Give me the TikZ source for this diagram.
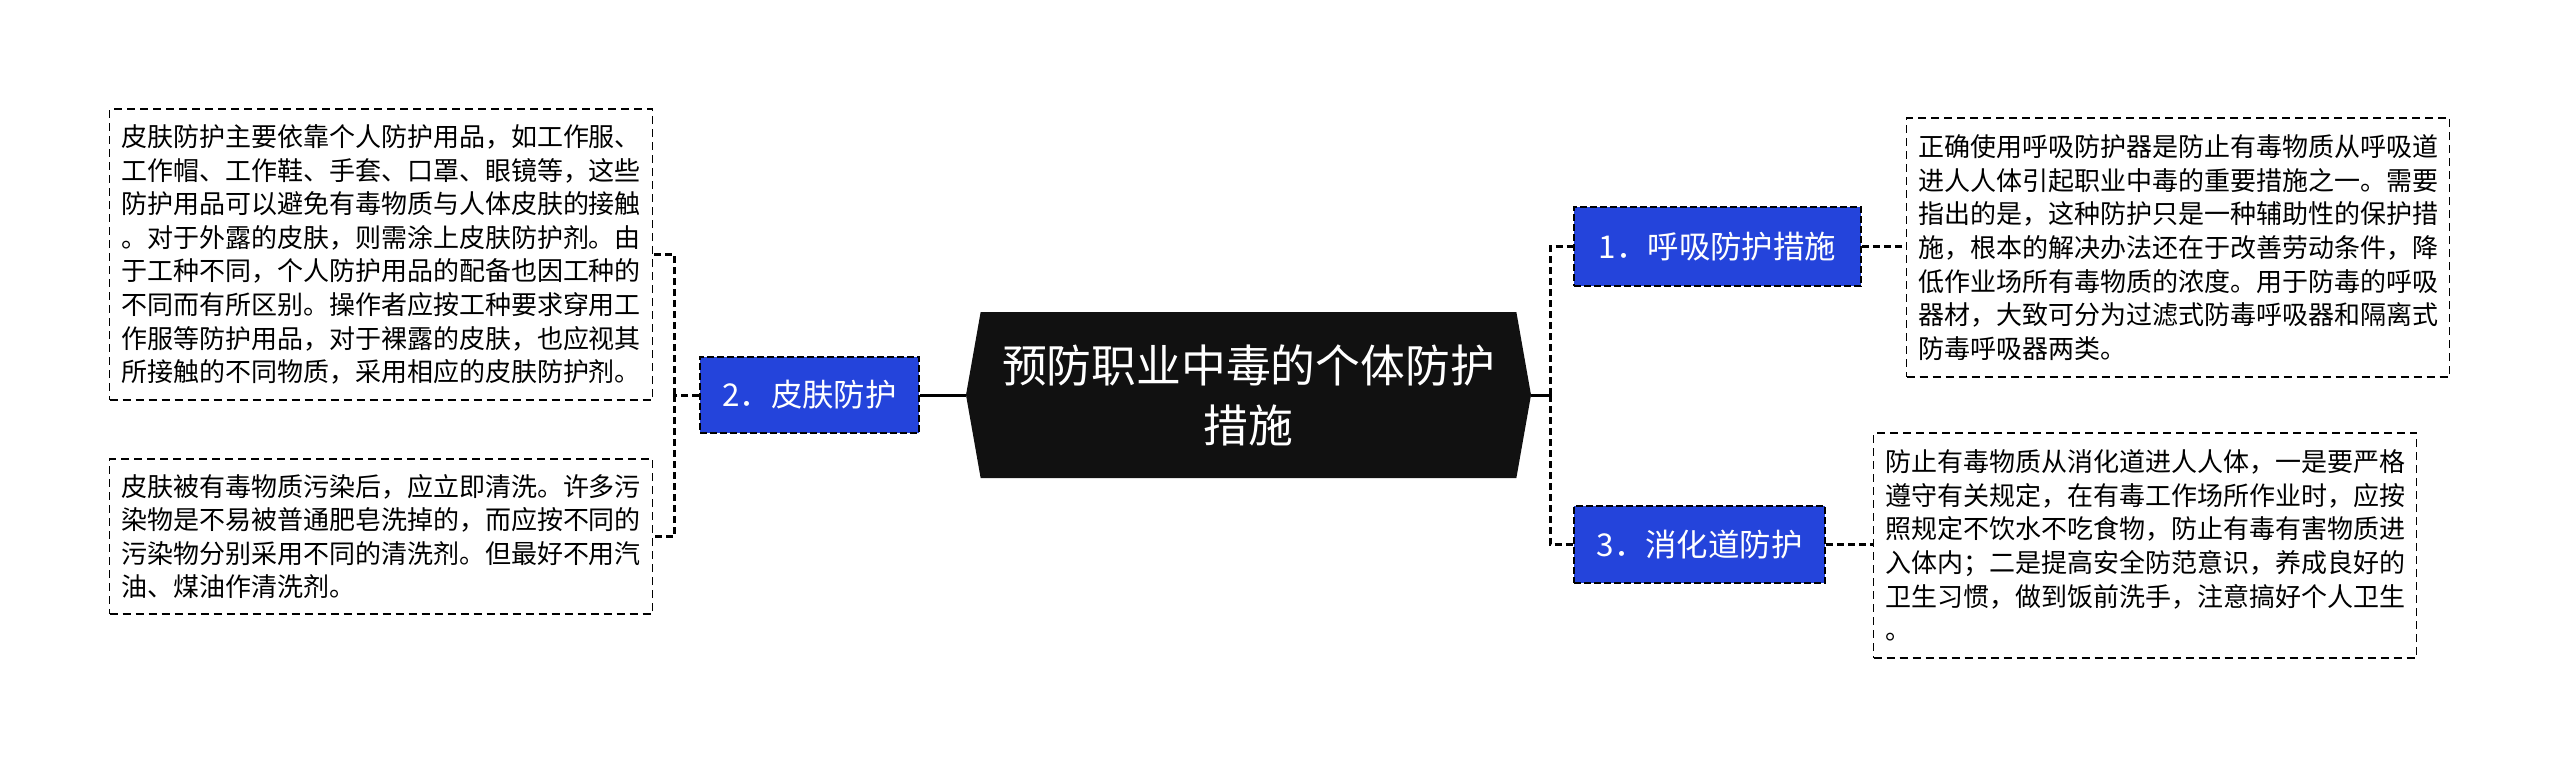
\documentclass[tikz,border=0pt]{standalone}
\usepackage{fontspec}
\setmainfont{Noto Sans CJK SC}
\usetikzlibrary{shapes.symbols}
\definecolor{branchblue}{RGB}{36,68,219}
\definecolor{rootblack}{RGB}{17,17,17}
\newcommand{\notefont}{\fontsize{13pt}{16.8pt}\selectfont}

\begin{document}
\begin{tikzpicture}[x = 0.5pt, y = -0.5pt, every node/.style = {inner sep = 0pt},
	root/.style = {signal, signal to = west and east, signal pointer angle = 160, fill = rootblack, text = white, align = center, minimum width = 282.5pt, minimum height = 83pt, font = \fontsize{22.4pt}{30pt}\selectfont},
	branch/.style = {rectangle, draw = black, line width = 0.8pt, dash pattern = on 3.5pt off 1.5pt, fill = branchblue, text = white, font = \fontsize{15.7pt}{18pt}\selectfont},
	note/.style = {rectangle, draw = black, line width = 0.65pt, dash pattern = on 4pt off 2.5pt, align = left, text width = 260pt, inner xsep = 5.75pt, font = \notefont},
	link/.style = {draw = black, line width = 1.5pt, dash pattern = on 3.5pt off 2pt},
	trunk/.style = {draw = black, line width = 1.5pt}]

	\useasboundingbox (0, 0) rectangle (2560, 767);

	\node (root)    at (1248.5, 395) [root] {预防职业中毒的个体防护\\措施};
	\node (skin)    at ( 809.5, 395) [branch, minimum width = 109.5pt, minimum height = 38pt] {2．皮肤防护};
	\node (breath)  at (1717.5, 246.5) [branch, minimum width = 143.5pt, minimum height = 39.5pt] {1．呼吸防护措施};
	\node (digest)  at (1699.5, 544.5) [branch, minimum width = 125.5pt, minimum height = 38.5pt] {3．消化道防护};

	\node (skinA)   at ( 381, 254.5) [note, minimum height = 145.5pt] {皮肤防护主要依靠个人防护用品，如工作服、\\工作帽、工作鞋、手套、口罩、眼镜等，这些\\防护用品可以避免有毒物质与人体皮肤的接触\\。对于外露的皮肤，则需涂上皮肤防护剂。由\\于工种不同，个人防护用品的配备也因工种的\\不同而有所区别。操作者应按工种要求穿用工\\作服等防护用品，对于裸露的皮肤，也应视其\\所接触的不同物质，采用相应的皮肤防护剂。};
	\node (skinB)   at ( 381, 536.5) [note, minimum height = 77.5pt] {皮肤被有毒物质污染后，应立即清洗。许多污\\染物是不易被普通肥皂洗掉的，而应按不同的\\污染物分别采用不同的清洗剂。但最好不用汽\\油、煤油作清洗剂。};
	\node (breathT) at (2178, 247.5) [note, minimum height = 129.5pt] {正确使用呼吸防护器是防止有毒物质从呼吸道\\进人人体引起职业中毒的重要措施之一。需要\\指出的是，这种防护只是一种辅助性的保护措\\施，根本的解决办法还在于改善劳动条件，降\\低作业场所有毒物质的浓度。用于防毒的呼吸\\器材，大致可分为过滤式防毒呼吸器和隔离式\\防毒呼吸器两类。};
	\node (digestT) at (2145, 545.5) [note, minimum height = 112.5pt] {防止有毒物质从消化道进人人体，一是要严格\\遵守有关规定，在有毒工作场所作业时，应按\\照规定不饮水不吃食物，防止有毒有害物质进\\入体内；二是提高安全防范意识，养成良好的\\卫生习惯，做到饭前洗手，注意搞好个人卫生\\。};

	\coordinate (jl) at ( 674, 395);
	\coordinate (jr) at (1550, 395);

	\path[trunk] (root.west) -- (skin.east);
	\path[trunk] (root.east) -- (jr);
	\path[link] (skin.west) -- (jl);
	\foreach \to in {skinA, skinB}
		\path[link] (jl) |- (\to.east);
	\foreach \to in {breath, digest}
		\path[link] (jr) |- (\to.west);
	\foreach \from/\to in {breath/breathT, digest/digestT}
		\path[link] (\from.east) -- (\to.west |- \from.east);

\end{tikzpicture}
\end{document}
